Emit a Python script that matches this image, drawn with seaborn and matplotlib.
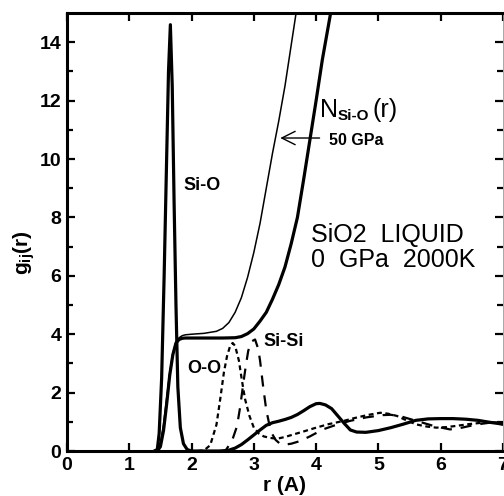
import seaborn as sns
import pandas as pd
import matplotlib.pyplot as plt

# g_ij(r) and N_Si-O(r) curves
r_sio = [1.40, 1.45, 1.48, 1.52, 1.56, 1.60, 1.63, 1.66, 1.69, 1.72, 1.75, 1.78,
         1.82, 1.87, 1.93, 2.00, 2.50, 2.60, 2.70, 2.80, 2.90, 3.00, 3.10, 3.20,
         3.30, 3.40, 3.50, 3.60, 3.70, 3.80, 3.90, 4.00, 4.06, 4.15, 4.25, 4.35,
         4.45, 4.55, 4.65, 4.80, 5.00, 5.20, 5.40, 5.60, 5.80, 6.00, 6.20, 6.40,
         6.60, 6.80, 7.00]
g_sio = [0.0, 0.05, 0.6, 2.5, 6.0, 10.0, 13.0, 14.6, 12.5, 8.5, 5.0, 2.2,
         0.8, 0.25, 0.05, 0.0, 0.0, 0.03, 0.1, 0.22, 0.38, 0.55, 0.72, 0.88,
         0.97, 1.02, 1.08, 1.15, 1.25, 1.38, 1.52, 1.62, 1.63, 1.58, 1.45, 1.2,
         0.95, 0.72, 0.65, 0.64, 0.7, 0.8, 0.92, 1.05, 1.1, 1.11, 1.11, 1.09,
         1.05, 0.98, 0.92]

r_oo = [2.10, 2.20, 2.30, 2.40, 2.46, 2.52, 2.57, 2.62, 2.66, 2.70, 2.76, 2.81,
        2.86, 2.93, 3.00, 3.08, 3.16, 3.26, 3.37, 3.50, 3.64, 3.80, 4.00, 4.20,
        4.44, 4.60, 4.82, 5.03, 5.15, 5.30, 5.45, 5.61, 5.77, 5.93, 6.10, 6.25,
        6.45, 6.67, 6.85, 7.00]
g_oo = [0.0, 0.02, 0.2, 0.9, 1.77, 2.7, 3.25, 3.6, 3.7, 3.6, 3.1, 2.4,
        1.77, 1.2, 0.8, 0.6, 0.5, 0.45, 0.42, 0.48, 0.57, 0.67, 0.8, 0.92,
        1.03, 1.12, 1.23, 1.31, 1.28, 1.2, 1.05, 0.91, 0.84, 0.8, 0.82, 0.86,
        0.92, 0.97, 0.98, 0.97]

r_sisi = [2.45, 2.55, 2.65, 2.73, 2.78, 2.83, 2.87, 2.91, 2.96, 3.02, 3.07, 3.10,
          3.15, 3.20, 3.25, 3.29, 3.35, 3.42, 3.50, 3.60, 3.74, 3.90, 4.11, 4.30,
          4.54, 4.80, 5.07, 5.20, 5.34, 5.50, 5.71, 5.90, 6.15, 6.30, 6.47, 6.65,
          6.79, 7.00]
g_sisi = [0.0, 0.03, 0.35, 0.85, 1.5, 2.3, 2.9, 3.43, 3.75, 3.82, 3.5, 3.1,
          2.2, 1.4, 0.9, 0.6, 0.38, 0.25, 0.22, 0.25, 0.34, 0.5, 0.74, 0.88,
          1.03, 1.15, 1.23, 1.24, 1.2, 1.1, 0.97, 0.85, 0.74, 0.78, 0.86, 0.93,
          0.97, 0.91]

r_n0 = [1.45, 1.50, 1.55, 1.60, 1.65, 1.70, 1.75, 1.80, 1.85, 1.90, 2.50, 2.70,
        2.80, 2.90, 3.00, 3.10, 3.20, 3.30, 3.40, 3.50, 3.60, 3.70, 3.80, 3.90,
        4.00, 4.10, 4.20, 4.25]
n_0gpa = [0.0, 0.15, 0.7, 1.6, 2.6, 3.3, 3.7, 3.82, 3.86, 3.87, 3.87, 3.88,
          3.92, 4.02, 4.18, 4.45, 4.75, 5.2, 5.7, 6.3, 7.1, 8.0, 9.3, 10.65,
          12.0, 13.4, 14.6, 15.2]

r_n50 = [1.43, 1.50, 1.55, 1.60, 1.65, 1.70, 1.75, 1.80, 1.85, 1.90, 2.00, 2.20,
         2.40, 2.50, 2.60, 2.70, 2.80, 2.90, 3.00, 3.10, 3.20, 3.30, 3.40, 3.50,
         3.60, 3.70]
n_50gpa = [0.0, 0.3, 0.9, 1.8, 2.7, 3.35, 3.72, 3.88, 3.95, 3.98, 4.0, 4.03,
           4.1, 4.2, 4.4, 4.75, 5.25, 5.95, 6.8, 7.8, 9.0, 10.2, 11.3, 12.5,
           13.9, 15.3]

sns.set_style("ticks")
plt.rcParams['font.family'] = ['Liberation Sans', 'DejaVu Sans']
plt.rcParams['mathtext.fontset'] = 'custom'
plt.rcParams['mathtext.rm'] = 'Liberation Sans'
plt.rcParams['mathtext.bf'] = 'Liberation Sans:bold'
for key in ['text.color', 'axes.labelcolor', 'xtick.color', 'ytick.color',
            'axes.edgecolor']:
    plt.rcParams[key] = 'black'

fig = plt.figure(figsize=(5.04, 4.96), dpi=100)
ax = fig.add_axes([0.1329, 0.0907, 0.865, 0.883])

curves = [
    (r_sio, g_sio, 2.3, '-'),
    (r_oo, g_oo, 1.6, (0, (2.2, 1.6))),
    (r_sisi, g_sisi, 1.6, (0, (5, 4))),
    (r_n0, n_0gpa, 2.3, '-'),
    (r_n50, n_50gpa, 1.1, '-'),
]
for rr, vals, lw, ls in curves:
    df = pd.DataFrame({"r": rr, "g": vals})
    sns.lineplot(data=df, x="r", y="g", ax=ax, color="black", lw=lw,
                 linestyle=ls, estimator=None)

ax.set_xlim(0, 7)
ax.set_ylim(0, 15)
ax.set_xticks(range(0, 8))
ax.set_yticks(range(0, 15, 2))
ax.set_yticks(range(1, 15, 2), minor=True)
ax.tick_params(direction="in", width=1.6, length=6, top=True, right=True,
               labelsize=14, pad=4)
ax.tick_params(which="minor", direction="in", width=1.6, length=4, right=True)
for lab in ax.get_xticklabels() + ax.get_yticklabels():
    lab.set_fontweight("bold")
for side in ["left", "bottom", "top"]:
    ax.spines[side].set_linewidth(2.2)
ax.spines["right"].set_linewidth(0.6)
ax.spines["right"].set_color("#999999")

ax.set_xlabel("r (A)", fontsize=15, fontweight="bold")
ax.set_ylabel(r"g$_\mathbf{ij}$(r)", fontsize=15, fontweight="bold")
ax.xaxis.set_label_coords(0.498, -0.058)
ax.yaxis.set_label_coords(-0.069, 0.453)

lab_kw = dict(fontsize=13, fontweight="bold", ha="center", va="center")
ax.text(2.17, 9.1, "Si-O", **lab_kw)
ax.text(2.2, 2.83, "O-O", **lab_kw)
ax.text(3.48, 3.76, "Si-Si", **lab_kw)

# N_Si-O(r) built from three pieces so the subscript keeps a plain hyphen
ax.text(4.06, 11.68, "N", fontsize=18, ha="left", va="center")
ax.annotate("Si-O", xy=(4.06, 11.68), xytext=(12.5, -4), textcoords="offset points",
            fontsize=11, fontweight="bold", ha="left", va="center")
ax.annotate("(r)", xy=(4.06, 11.68), xytext=(38, 0), textcoords="offset points",
            fontsize=18, ha="left", va="center")

ax.text(4.2, 10.65, "50 GPa", fontsize=11.5, fontweight="bold", ha="left", va="center")
ax.annotate("", xy=(3.38, 10.72), xytext=(4.1, 10.72),
            arrowprops=dict(arrowstyle="->", color="black", lw=1.0,
                            mutation_scale=24))
ax.text(3.92, 7.41, "SiO2  LIQUID", fontsize=18, ha="left", va="center")
ax.text(3.92, 6.55, "0  GPa  2000K", fontsize=18, ha="left", va="center")

plt.savefig("out.png", dpi=100)
